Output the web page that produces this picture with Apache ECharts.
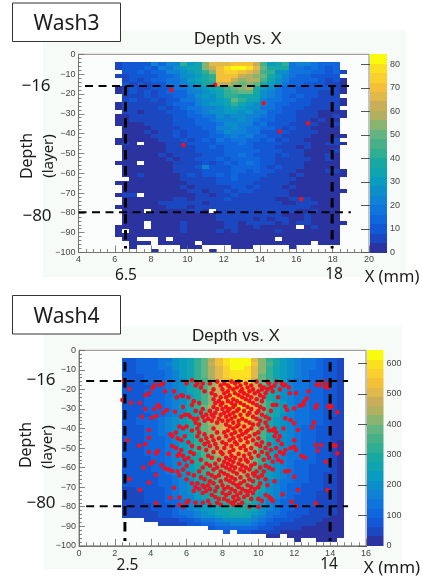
<!DOCTYPE html>
<html>
<head>
<meta charset="utf-8">
<style>html,body{margin:0;padding:0;background:#fff}#c{width:422px;height:581px;filter:blur(0.45px)}</style>
<script src="https://cdn.jsdelivr.net/npm/echarts@6/dist/echarts.min.js"></script>
</head>
<body>
<div id="c"></div>
<script>
const paletteColors = ['#2a33a0','#1b47c0','#1258d4','#1066dc','#0f74dc','#0f82d4','#0a8fc8','#0a9cc0','#10a4b0','#18a8a2','#30ae94','#48b088','#62b480','#88b470','#b0b060','#c8ae58','#e0b84c','#f4c038','#fad030','#fbe020','#f9fb0e'];
const wash3XTicks = [4, 20], wash4XTicks = [0, 16];
const wash3ColorTicks = [0,10,20,30,40,50,60,70,80];
const wash4ColorTicks = [0,100,200,300,400,500,600];
const wash3ColorMax = 84.3, wash4ColorMax = 643;
const wash3XStart = 6.0, wash4XStart = 2.4;
const depthStart = -4, depthBin = 2, xBin = 0.4;

const wash3Values = [
[5,11,9,12,10,22,15,24,24,42,30,33,54,66,66,68,70,70,70,62,46,32,36,44,18,24,21,17,14,14,14,0],
[6,10,12,10,14,12,22,20,28,32,36,34,56,62,70,78,84,84,80,66,50,40,38,40,20,20,16,17,15,12,16,0],
[0,9,10,14,10,16,14,22,22,26,30,36,44,54,72,74,74,72,66,62,48,44,28,28,18,18,20,14,13,10,14,5],
[5,8,12,10,12,12,16,16,20,28,26,32,40,44,72,72,70,62,60,56,50,38,30,24,20,16,14,12,10,12,9,0],
[0,7,10,6,9,14,14,18,20,24,30,34,38,44,70,72,62,56,58,58,46,36,28,22,16,14,16,13,12,8,10,4],
[0,9,8,11,6,12,12,18,20,22,28,30,40,36,62,64,54,50,54,50,38,30,26,18,16,14,12,12,10,8,6,4],
[3,5,9,7,8,10,12,12,18,20,22,28,30,34,40,46,52,54,58,40,30,26,20,14,14,12,10,11,10,9,7,4],
[4,7,10,8,9,8,10,14,15,14,22,24,28,30,34,44,46,50,50,38,28,24,18,16,14,12,12,10,8,6,6,4],
[0,8,8,7,10,8,11,9,14,16,20,26,30,28,36,42,44,40,38,34,26,22,20,14,12,14,11,10,7,5,5,0],
[0,6,9,6,7,9,8,10,12,18,20,22,28,26,30,36,50,44,36,34,24,20,18,16,14,12,12,8,6,7,6,4],
[3,7,8,6,5,7,8,9,14,14,16,22,26,30,32,34,44,36,30,28,24,20,14,14,12,10,9,8,6,5,7,4],
[3,6,5,7,6,5,9,8,10,14,18,20,24,24,28,32,36,30,28,28,20,18,16,12,11,12,8,6,7,5,5,0],
[0,5,6,4,5,7,6,10,9,12,16,18,22,26,26,30,30,28,32,24,22,14,14,12,10,8,5,6,4,4,4,4],
[3,4,5,6,7,6,8,8,12,10,14,16,18,20,26,22,26,26,24,22,20,14,12,10,10,7,7,5,3,3,5,4],
[3,3,5,5,6,7,5,8,9,12,12,16,16,18,22,24,24,26,22,20,16,14,12,9,10,8,6,4,5,4,4,0],
[3,4,4,3,5,6,7,5,10,9,12,14,14,16,20,26,28,24,22,16,18,12,10,10,8,7,5,6,4,3,5,0],
[0,3,3,4,4,5,6,8,7,12,10,12,15,14,24,22,26,22,20,18,14,14,10,8,9,6,6,4,4,3,3,0],
[0,3,4,3,5,4,7,6,10,8,12,10,12,16,18,26,22,24,18,20,12,12,9,9,6,7,5,5,3,4,4,0],
[0,4,3,3,3,5,5,7,9,7,10,12,11,14,16,20,24,18,22,16,14,10,10,7,8,5,6,3,3,3,4,3],
[3,4,3,4,3,4,6,5,7,9,8,11,14,12,18,16,18,18,14,16,12,13,8,9,6,6,4,3,4,3,5,0],
[3,5,3,0,3,3,4,6,5,7,10,9,12,10,14,14,16,20,14,12,12,10,10,7,7,5,5,3,3,5,5,3],
[0,3,2,3,3,4,3,5,8,6,8,9,10,14,12,16,14,14,16,12,10,12,8,8,5,4,6,4,4,3,4,0],
[0,3,3,2,3,4,4,5,6,8,7,10,11,12,12,13,16,15,14,14,10,9,10,6,7,5,4,3,4,4,5,0],
[0,3,3,3,2,3,5,4,6,5,8,8,12,10,12,14,13,18,16,12,11,10,8,9,6,6,4,4,3,5,4,0],
[0,4,3,3,3,2,3,5,4,7,6,10,9,9,13,12,16,14,14,16,12,9,8,8,7,5,5,3,4,5,4,0],
[3,4,3,0,3,3,4,3,5,6,8,7,12,8,11,14,12,15,18,14,10,10,7,7,6,6,4,4,3,3,4,0],
[0,3,3,3,2,3,3,4,6,5,6,9,24,10,10,12,14,14,16,13,12,8,9,6,7,5,3,4,4,4,4,0],
[0,4,3,3,3,3,2,3,5,7,6,8,12,12,11,10,16,14,12,13,9,10,7,6,5,4,4,3,4,5,5,4],
[0,3,4,5,3,2,3,4,4,8,10,7,9,10,13,12,14,12,12,10,9,8,6,6,4,5,3,3,4,4,4,3],
[0,0,3,3,4,3,2,3,3,6,6,8,8,7,10,12,14,10,9,11,8,7,7,5,5,3,4,3,3,4,4,0],
[3,3,3,2,3,3,3,2,4,4,6,5,7,6,9,10,12,9,10,8,8,6,5,6,4,3,3,4,4,3,4,0],
[0,3,3,3,3,2,3,3,3,5,4,6,6,7,8,7,10,11,8,9,7,5,6,4,5,3,3,3,4,4,3,0],
[0,3,2,3,3,3,3,2,4,3,5,5,4,6,7,9,8,10,9,7,6,6,5,5,4,4,3,3,3,4,3,4],
[3,5,6,0,3,3,3,3,3,4,4,5,5,4,8,7,10,8,7,6,8,5,6,7,4,3,3,2,4,3,3,0],
[0,3,3,3,3,2,3,4,5,6,4,6,6,5,7,9,8,7,8,7,5,6,4,4,5,5,5,4,3,4,3,0],
[0,3,3,3,2,3,5,5,6,7,5,5,4,6,6,8,7,8,6,6,7,5,6,4,4,6,5,6,4,3,4,0],
[3,3,3,3,3,3,4,6,5,5,4,6,7,8,6,7,8,6,8,7,5,6,7,6,5,7,6,4,4,3,3,0],
[0,3,3,3,0,3,3,4,4,4,5,5,4,0,6,7,6,7,6,5,6,5,6,6,5,4,4,5,3,3,3,0],
[0,3,3,3,3,3,3,3,4,3,4,3,4,4,5,6,5,6,7,6,5,5,5,4,4,4,5,3,3,4,3,0],
[0,3,3,3,3,3,3,3,3,4,3,4,3,4,5,5,6,5,6,4,5,4,5,6,4,3,5,4,4,3,3,0],
[0,3,3,3,0,3,3,3,4,6,4,3,3,3,4,6,5,4,5,5,6,6,4,5,4,5,5,4,4,3,4,3],
[3,3,3,3,0,3,3,4,3,5,3,4,3,3,4,5,6,4,4,5,4,4,4,3,3,0,4,5,3,3,3,0],
[3,0,3,3,3,3,3,3,4,5,3,3,3,3,5,4,5,4,4,3,3,4,5,3,3,3,3,3,3,3,3,0],
[3,3,3,3,3,3,3,3,3,3,3,3,3,3,4,4,4,3,3,3,3,3,3,3,3,3,3,3,3,3,3,0],
[0,3,3,0,0,0,3,0,3,3,3,3,3,3,4,4,3,3,3,3,3,3,0,3,3,3,3,3,3,3,3,0],
[0,0,3,3,3,0,3,3,3,3,3,0,3,3,4,3,3,3,3,3,3,3,3,3,3,3,3,0,3,3,3,0],
[0,0,3,0,0,0,0,0,0,3,3,3,0,0,0,0,3,3,3,0,0,0,0,0,3,0,0,0,0,0,0,0],
[0,0,0,0,0,3,0,0,0,0,0,0,0,3,0,0,0,0,0,0,0,0,0,0,0,0,0,0,0,0,0,0]
];

const wash4Values = [
[88,88,95,101,113,126,151,189,227,271,328,391,454,523,586,630,630,617,517,416,334,277,233,195,164,145,126,107,88,69,38],
[90,90,96,102,115,128,154,192,230,275,333,397,461,531,595,640,640,627,525,422,339,282,237,198,166,147,128,109,90,70,38],
[87,87,93,99,112,124,149,186,223,267,322,384,446,515,577,620,620,608,508,409,329,273,229,192,161,143,124,105,87,68,37],
[85,85,92,98,110,122,146,183,220,262,317,378,439,506,567,610,610,598,500,403,323,268,226,189,159,140,122,104,85,67,37],
[84,84,90,96,108,120,144,180,216,258,312,372,432,498,558,600,600,588,492,396,318,264,222,186,156,138,120,102,84,66,36],
[83,83,88,94,106,118,142,177,212,254,307,366,425,490,549,590,590,578,484,389,313,260,218,183,153,136,118,100,83,65,35],
[81,81,87,93,104,116,139,174,209,249,302,360,418,481,539,580,580,568,476,383,307,255,215,180,151,133,116,99,81,64,35],
[80,80,86,91,103,114,137,171,205,245,296,353,410,473,530,570,570,559,467,376,302,251,211,177,148,131,114,97,80,63,34],
[79,81,85,92,102,115,136,172,204,246,295,354,409,474,529,572,568,560,466,377,301,252,210,178,147,132,113,98,79,62,34],
[80,79,86,90,104,113,138,170,206,244,297,352,411,472,531,568,571,558,468,375,303,250,212,176,149,130,115,96,81,63,33],
[81,81,86,92,104,115,138,173,207,247,299,357,414,477,535,575,575,564,472,380,305,253,213,178,150,132,115,98,81,63,35],
[83,83,88,94,106,118,142,177,212,254,307,366,425,490,549,590,590,578,484,389,313,260,218,183,153,136,118,100,83,65,35],
[84,84,90,96,108,120,144,180,216,258,312,372,432,498,558,600,600,588,492,396,318,264,222,186,156,138,120,102,84,66,36],
[81,81,87,93,104,116,139,174,209,249,302,360,418,481,539,580,580,568,476,383,307,255,215,180,151,133,116,99,81,64,35],
[80,80,86,91,103,114,137,171,205,245,296,353,410,473,530,570,570,559,467,376,302,251,211,177,148,131,114,97,80,63,34],
[88,88,94,105,116,132,160,198,242,286,341,396,440,484,523,550,550,539,451,363,292,242,204,171,143,127,110,94,77,61,33],
[86,86,92,103,113,130,157,194,238,281,335,389,432,475,513,540,540,529,443,356,286,238,200,167,140,124,108,92,76,59,32],
[85,85,90,101,111,127,154,191,233,276,329,382,424,466,504,530,530,519,435,350,281,233,196,164,138,122,106,90,74,58,32],
[86,84,91,100,112,126,155,190,234,275,330,381,425,465,505,528,532,518,436,349,282,232,197,163,139,121,107,89,75,57,31],
[83,83,88,99,109,125,151,187,229,270,322,374,416,458,494,520,520,510,426,343,276,229,192,161,135,120,104,88,73,57,31],
[82,82,87,97,107,122,148,184,224,265,316,367,408,449,485,510,510,500,418,337,270,224,189,158,133,117,102,87,71,56,31],
[83,81,88,96,108,121,149,183,225,264,317,366,409,448,486,512,508,501,417,338,269,225,188,159,132,118,101,88,70,55,30],
[80,80,85,95,105,120,145,180,220,260,310,360,400,440,475,500,500,490,410,330,265,220,185,155,130,115,100,85,70,55,30],
[81,79,86,94,106,119,146,179,221,259,311,359,401,439,476,498,502,489,411,329,266,219,186,154,131,114,101,84,71,54,29],
[78,78,83,93,103,118,142,176,216,255,304,353,392,431,466,490,490,480,402,323,260,216,181,152,127,113,98,83,69,54,29],
[77,77,82,91,101,115,139,173,211,250,298,346,384,422,456,480,480,470,394,317,254,211,178,149,125,110,96,82,67,53,29],
[75,75,80,89,99,113,136,169,207,244,291,338,376,414,447,470,470,461,385,310,249,207,174,146,122,108,94,80,66,52,28],
[72,72,77,86,95,108,131,162,198,234,279,324,360,396,428,450,450,441,369,297,239,198,167,140,117,104,90,77,63,50,27],
[70,70,75,84,92,106,128,158,194,229,273,317,352,387,418,440,440,431,361,290,233,194,163,136,114,101,88,75,62,48,26],
[69,69,73,82,90,103,125,155,189,224,267,310,344,378,409,430,430,421,353,284,228,189,159,133,112,99,86,73,60,47,26],
[67,67,71,80,88,101,122,151,185,218,260,302,336,370,399,420,420,412,344,277,223,185,155,130,109,97,84,71,59,46,25],
[64,64,68,76,84,96,116,144,176,208,248,288,320,352,380,400,400,392,328,264,212,176,148,124,104,92,80,68,56,44,24],
[62,62,66,74,82,94,113,140,172,203,242,281,312,343,371,390,390,382,320,257,207,172,144,121,101,90,78,66,55,43,23],
[61,61,65,72,80,91,110,137,167,198,236,274,304,334,361,380,380,372,312,251,201,167,141,118,99,87,76,65,53,42,23],
[58,58,61,68,76,86,104,130,158,187,223,259,288,317,342,360,360,353,295,238,191,158,133,112,94,83,72,61,50,40,22],
[56,56,60,67,74,84,102,126,154,182,217,252,280,308,333,350,350,343,287,231,186,154,130,109,91,81,70,60,49,39,21],
[53,53,56,63,69,79,96,119,145,172,205,238,264,290,314,330,330,323,271,218,175,145,122,102,86,76,66,56,46,36,20],
[50,50,53,59,65,74,90,112,136,161,192,223,248,273,295,310,310,304,254,205,164,136,115,96,81,71,62,53,43,34,19],
[48,48,51,57,63,72,87,108,132,156,186,216,240,264,285,300,300,294,246,198,159,132,111,93,78,69,60,51,42,33,18],
[45,45,48,53,59,67,81,101,123,146,174,202,224,246,266,280,280,274,230,185,148,123,104,87,73,64,56,48,39,31,17],
[42,42,44,49,55,62,75,94,114,135,161,187,208,229,247,260,260,255,213,172,138,114,96,81,68,60,52,44,36,29,16],
[0,0,0,32,36,40,48,60,72,86,104,124,144,166,186,200,200,196,164,132,106,88,74,62,52,46,40,34,28,22,12],
[0,0,0,0,0,32,38,48,58,69,83,99,115,133,149,160,160,157,131,106,85,70,59,50,42,37,32,27,22,18,10],
[0,0,0,0,0,0,0,0,0,0,0,0,86,100,112,120,120,118,98,79,64,53,44,37,31,28,24,20,17,13,8],
[0,0,0,0,0,0,0,0,0,0,0,0,0,0,65,0,70,69,57,46,37,31,26,22,18,16,14,12,10,8,5],
[0,0,0,0,0,0,0,0,0,0,0,0,0,0,0,0,0,0,0,0,21,18,0,12,10,9,8,7,6,4,3],
[0,0,0,0,0,0,0,0,0,0,0,0,0,0,0,0,0,0,0,0,0,0,0,0,6,0,0,4,4,3,0]
];

const wash3Points = [[9.12,-18],[11.52,-15.5],[14.2,-24.7],[16.64,-34.8],[15.08,-39],[9.78,-45.8],[16.26,-73]];

const wash4OuterPoints = [[2.42,-25.4],[2.5,-15.6],[2.8,-19.8],[2.9,-26.8],[3.4,-27],[3.5,-34],[3.7,-30],[3.7,-23],[3.9,-22],[4.1,-19.5],[4.2,-17.8],[4.5,-17.8],[4.7,-17],[4.8,-21],[5.3,-21],[5.45,-24],[5.7,-23],[5.8,-23.4],[6,-17],[6.3,-15.3],
[4.05,-34.5],[4.3,-33.6],[4.2,-30],[4.4,-28],[4.5,-29],[4.7,-32],[4.9,-30.5],[5.35,-31.4],[5.9,-33],[6.2,-34],[6.4,-35],[3.9,-40.8],[3.9,-44.7],[3.7,-48],[3.35,-48.8],[2.7,-46],[3.9,-52],[4.3,-52.7],[4.4,-51.5],[4.15,-57],[4,-58],[3.6,-60],[4.6,-58.7],[4.8,-60.4],[5,-61],[5.2,-61.8],[4.3,-63.8],[3.9,-67.7],[2.8,-65.9],[3.4,-71.5],[5.3,-70.3],[5.1,-75.4],[5.6,-75.3],[4.3,-78.3],
[13.4,-17.7],[13.6,-16],[13.7,-18.6],[13.9,-19],[13.9,-17],[13.25,-17.7],[12.8,-21],[12.7,-24.6],[12.55,-26.3],[12.3,-28.3],[12.5,-28],[11.75,-22],[12.1,-22],[11.5,-17.7],[11.7,-19],[14,-28],[14.1,-29],[13.9,-29],[14.4,-31.7],[13.25,-28],[13.2,-29.4],[13.1,-36.9],[13,-39.4],[12,-29.7],[11.5,-28.8],[11.6,-30.5],[11.5,-34.8],[11.8,-35.7],[12,-37.4],[12.2,-40.8],[12,-46],
[13.2,-48.5],[13.5,-48.5],[13.3,-51.4],[14.2,-48.5],[14.3,-48.8],[14.4,-52.7],[13.75,-57],[12.4,-54],[12.6,-54.8],[12.1,-51],[11.8,-50],[12,-49.3],[11.5,-62],[11.7,-61.8],[12,-64.7],[12.2,-71.5],[13.85,-71.5],[11.85,-77.5],[12.1,-79.7],[13.2,-78.3],[11.35,-73.7]];

const wash4InnerPoints = [
[-16,[7.7,8.5,8.9,9.9,10.5,11.0]],[-17,[6.6,6.9,7.3,8.1,8.7,9.3,10.6,11.3]],[-18,[6.5,7.9,8.3,9.0,9.6,10.1,10.9,11.4]],[-19,[6.8,8.4,8.8,9.4,10.3,10.7]],[-20,[7.5,8.0,8.6,9.1,9.7,10.2,10.5,11.2]],
[-21,[7.0,8.3,9.0,9.5,10.0,10.8]],[-22,[7.4,8.1,8.7,9.2,9.8,10.4]],[-23,[7.6,8.4,8.9,9.4,10.1]],[-24,[6.1,7.9,8.2,9.1,9.6,10.3,11.1]],[-25,[7.5,8.6,9.3,9.9]],
[-26,[6.4,7.8,8.3,8.8,9.5,10.2]],[-27,[6.7,7.6,8.0,8.5,9.0,9.7]],[-28,[6.3,7.9,8.7,9.2,9.9,10.8,11.0]],[-29,[5.8,7.5,8.2,8.6,9.4,10.1]],[-30,[6.9,7.7,8.0,8.4,8.9,9.6,10.3]],
[-31,[6.5,7.3,8.3,8.8,9.2,10.0,10.7]],[-32,[6.8,7.6,8.1,8.6,9.5,9.9]],[-33,[6.1,7.1,7.4,7.9,8.4,9.0,9.4,10.2]],[-34,[5.7,6.9,7.5,8.2,8.7,9.7,10.4]],[-35,[6.6,7.2,7.8,8.5,9.1,9.9,10.6]],
[-36,[7.0,7.4,8.0,8.3,8.9,9.3,10.1]],[-37,[6.5,7.7,8.6,9.5,10.4]],[-38,[6.7,8.2,8.9,9.7,10.0]],[-39,[5.6,6.0,8.4,8.8,9.2,10.5]],[-40,[5.8,6.6,7.5,8.6,9.6,10.2,10.9,11.4]],
[-41,[6.3,8.3,9.0,9.4,10.6,10.8]],[-42,[5.4,6.7,7.7,8.1,8.7,9.3,10.0,11.0]],[-43,[5.1,7.0,8.5,9.1,9.8]],[-44,[5.2,5.9,6.6,7.4,8.2,8.9,9.5,10.9,11.2]],[-45,[5.5,7.1,7.8,8.6,9.3,10.0]],
[-46,[5.7,6.8,7.5,8.4,9.0,9.7,11.1]],[-47,[6.1,7.2,8.0,8.7,9.4,10.2]],[-48,[7.0,7.6,8.2,8.8,9.9,10.6,11.3]],[-49,[5.2,6.3,7.3,8.5,9.2,10.1]],[-50,[5.4,6.7,7.7,8.1,9.0,9.6,10.4,11.0]],
[-51,[5.7,7.1,8.6,9.3,10.7,11.5]],[-52,[6.2,7.5,7.9,8.4,9.8,10.2,11.2]],[-53,[5.0,5.6,6.4,8.0,8.9,9.5,10.5,11.4]],[-54,[5.5,5.8,7.2,8.5,9.2,10.0,11.0]],[-55,[6.1,7.4,8.2,8.7,9.6,10.6]],
[-56,[5.9,6.8,7.8,8.4,9.0,9.3,10.3,11.1]],[-57,[6.3,8.1,8.6,9.4,10.8,11.3]],[-58,[5.6,7.1,7.6,8.3,8.9,9.8]],[-59,[6.0,7.3,8.0,8.5,9.1,9.6,10.4]],[-60,[6.9,7.7,8.2,8.7,9.3,10.1,10.6]],
[-61,[5.8,7.5,8.4,9.0,9.5,10.8]],[-62,[5.5,6.7,7.9,8.6,9.2,9.9,10.3]],[-63,[6.1,7.2,8.1,8.8,9.7]],[-64,[5.6,6.4,7.4,7.8,8.3,9.4,9.8,10.2]],[-65,[6.8,7.6,8.5,9.0,10.0]],
[-66,[6.0,7.0,8.2,8.7,9.5,10.4]],[-67,[7.3,7.9,8.4,9.2,9.7,10.9]],[-68,[6.3,6.6,7.5,8.6,9.0,10.1]],[-69,[6.9,7.2,8.0,8.8,9.4,10.5]],[-70,[6.5,7.0,7.7,8.3,8.9,9.6,10.0]],
[-71,[6.7,7.3,8.1,8.5,9.1,9.8]],[-72,[6.4,7.1,7.6,8.7,9.3,9.5]],[-73,[6.9,8.0,8.4,9.0,9.7]],[-74,[7.4,8.2,8.8,9.4,10.4]],[-75,[7.6,8.6,9.2,10.6]],
[-76,[7.8,8.1,8.9,9.6,10.0,10.7]],[-77,[6.1,7.2,8.3,8.7,10.2,10.8]],[-78,[6.0,6.5,6.9,7.7,8.5,9.1]],[-79,[5.6,7.3,7.9,8.6,8.9]],[-80,[5.8,9.5,10.0]]
];

const wash3HCuts = [[-16,4.36,18.9],[-79.7,4.0,19.0]];
const wash3VCuts = [[6.59,-16,-98],[17.97,-16,-98]];
const wash4HCuts = [[-15.7,0.4,15.0],[-79.8,0.4,15.0]];
const wash4VCuts = [[2.56,-6,-97.5],[14.0,-6,-97.5]];

const grids = [
  {left:78.5, top:54.3, width:290.5, height:198.2},
  {left:370, top:54.3, width:17, height:198.2},
  {left:79, top:350.3, width:287, height:195.5},
  {left:367, top:350.3, width:16.5, height:195.5}
];
const gridShow = {show:true, backgroundColor:'#fbfdfc', borderColor:'#8a8a8a', borderWidth:1};

function colorOf(v, max){
  const i = Math.min(paletteColors.length-1, Math.floor(v/max*paletteColors.length));
  return paletteColors[i];
}
function cells(values, x0){
  const out=[];
  values.forEach((row,r)=>row.forEach((v,c)=>{ if(v>0) out.push([x0+c*xBin, depthStart-r*depthBin, v]); }));
  return out;
}
function heatSeries(values,x0,max,idx){
  return {type:'custom', xAxisIndex:idx, yAxisIndex:idx, z:2, silent:true, data:cells(values,x0), encode:{x:0,y:1},
    renderItem(p,api){
      const a=api.coord([api.value(0),api.value(1)]), b=api.coord([api.value(0)+xBin,api.value(1)-depthBin]);
      const col=colorOf(api.value(2),max);
      const x0=Math.round(a[0]),y0=Math.round(a[1]),x1=Math.round(b[0]),y1=Math.round(b[1]);
      return {type:'rect', shape:{x:x0,y:y0,width:x1-x0,height:y1-y0}, style:{fill:col}};
    }};
}
function barSeries(max,idx){
  const n=paletteColors.length, d=paletteColors.map((c,i)=>[i*max/n,(i+1)*max/n,i]);
  return {type:'custom', xAxisIndex:idx, yAxisIndex:idx, z:2, silent:true, data:d, encode:{y:[0,1]},
    renderItem(p,api){
      const a=api.coord([0,api.value(1)]), b=api.coord([1,api.value(0)]);
      const col=paletteColors[api.value(2)];
      const y0=Math.round(a[1]),y1=Math.round(b[1]);
      return {type:'rect', shape:{x:a[0],y:y0,width:b[0]-a[0],height:y1-y0}, style:{fill:col}};
    }};
}
function dashSeries(data,dash,w,idx){
  return {type:'line', xAxisIndex:idx, yAxisIndex:idx, data, z:6, silent:true, clip:false, showSymbol:false, symbol:'none', animation:false,
    lineStyle:{color:'#000',width:w,type:dash,cap:'butt'}};
}
function scatter(data,idx){
  return {type:'scatter', xAxisIndex:idx, yAxisIndex:idx, data, z:4, silent:true, symbolSize:4.6, itemStyle:{color:'#ee1122',opacity:1}};
}
const tickStyle={color:'#666',width:0.8};
function mainX(range,i){return {gridIndex:i,type:'value',min:range[0],max:range[1],interval:2,splitLine:{show:false},z:5,
  axisLine:{show:true,onZero:false,lineStyle:{color:'#777'}},axisTick:{show:true,inside:true,length:7,lineStyle:tickStyle},
  minorTick:{show:true,splitNumber:5,length:3.5,lineStyle:tickStyle},axisLabel:{color:'#444',fontSize:9,margin:3,fontFamily:'Liberation Sans',showMinLabel:true,showMaxLabel:true}};}
function mainY(i){return {gridIndex:i,type:'value',min:-100,max:0,interval:10,splitLine:{show:false},z:5,
  axisLine:{show:true,onZero:false,lineStyle:{color:'#777'}},axisTick:{show:true,inside:true,length:6,lineStyle:tickStyle},
  minorTick:{show:true,splitNumber:5,length:3,lineStyle:tickStyle},
  axisLabel:{color:'#444',fontSize:9,margin:3,fontFamily:'Liberation Sans',formatter:v=>String(v).replace('-','\u2212'),showMinLabel:true,showMaxLabel:true}};}
function barX(i){return {gridIndex:i,type:'value',min:0,max:1,show:false};}
function barY(i,max,ticks){return {gridIndex:i,type:'value',min:0,max:max,position:'right',splitLine:{show:false},z:5,
  axisLine:{show:false},axisTick:{show:true,inside:true,length:9,customValues:ticks,lineStyle:{color:'#555',width:1}},
  axisLabel:{color:'#444',fontSize:9,margin:3,fontFamily:'Liberation Sans',customValues:ticks,showMinLabel:true,showMaxLabel:true}};}

const T='#1c1c1c';
function txt(text,x,y,size,extra){
  return Object.assign({type:'text',z:100,x,y,silent:true,style:{text,fill:T,fontSize:size,fontFamily:'Noto Sans',align:'center',verticalAlign:'middle'}},extra||{});
}
function box(x,y,w,h){return {type:'rect',z:90,silent:true,shape:{x,y,width:w,height:h},style:{fill:'#fff',stroke:'#333',lineWidth:1}};}
function panel(x,y,w,h){return {type:'rect',z:-5,silent:true,shape:{x,y,width:w,height:h},style:{fill:'#f6fbf8'}};}
function rot(el){el.rotation=Math.PI/2;return el;}
function titleTxt(x,y){const t=txt('Depth vs. X',x,y,17);t.style.fontFamily='Liberation Sans';t.style.fill='#222';return t;}

const chart=echarts.init(document.getElementById('c'),null,{renderer:'canvas'});
const wash4Scatter=[...wash4OuterPoints];
wash4InnerPoints.forEach(([y,xs])=>xs.forEach(x=>wash4Scatter.push([x,y])));
chart.setOption({
  animation:false,
  grid:[Object.assign({},grids[0],gridShow),Object.assign({},grids[1],{show:false}),Object.assign({},grids[2],gridShow),Object.assign({},grids[3],{show:false})],
  xAxis:[mainX(wash3XTicks,0),barX(1),mainX(wash4XTicks,2),barX(3)],
  yAxis:[mainY(0),barY(1,wash3ColorMax,wash3ColorTicks),mainY(2),barY(3,wash4ColorMax,wash4ColorTicks)],
  series:[
    heatSeries(wash3Values,wash3XStart,wash3ColorMax,0),
    scatter(wash3Points,0),
    ...wash3HCuts.map(c=>dashSeries([[c[1],c[0]],[c[2],c[0]]],[8,5.5],2,0)),
    ...wash3VCuts.map(c=>dashSeries([[c[0],c[1]],[c[0],c[2]]],[9.5,6.5],3,0)),
    barSeries(wash3ColorMax,1),
    heatSeries(wash4Values,wash4XStart,wash4ColorMax,2),
    scatter(wash4Scatter,2),
    ...wash4HCuts.map(c=>dashSeries([[c[1],c[0]],[c[2],c[0]]],[8,5.5],2,2)),
    ...wash4VCuts.map(c=>dashSeries([[c[0],c[1]],[c[0],c[2]]],[9.5,6.5],3,2)),
    barSeries(wash4ColorMax,3)
  ],
  graphic:{elements:[
    panel(43,30,363,247),
    panel(44,326,358,243),
    box(12.5,3,108,38.5),
    box(12.5,295.5,108,38.5),
    txt('Wash3',66.5,24,21),
    txt('Wash4',66.5,317,21),
    titleTxt(238,39),
    titleTxt(236,336),
    txt('\u221216',36,86.5,17),
    txt('\u221280',37,216,17),
    txt('\u221216',41,380.5,17),
    txt('\u221280',41,503,17),
    rot(txt('Depth',27,156,16)),
    rot(txt('(layer)',49,156,15)),
    rot(txt('Depth',26,445,16)),
    rot(txt('(layer)',48,447,15)),
    txt('6.5',126,276,15.5),
    txt('18',334,275,15.5),
    txt('X (mm)',392,277,16.5),
    txt('2.5',127.5,566,15.5),
    txt('14',329,565,15.5),
    txt('X (mm)',392,568,17)
  ]}
});
</script>
</body>
</html>
